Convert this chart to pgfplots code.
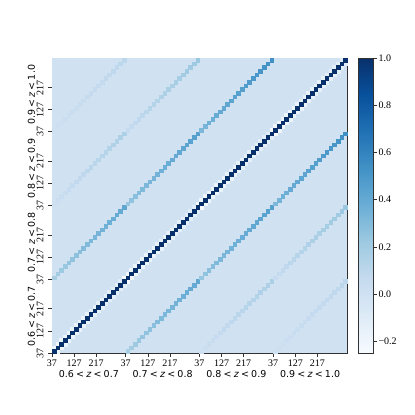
\documentclass[border=0pt]{standalone}
\usepackage{pgfplots}
\pgfplotsset{compat=1.18}
\usepackage{pgfplotstable}
\usepackage{fontspec}
\setmainfont{Liberation Serif}
\newfontfamily\dejavu{DejaVu Sans}

\pgfplotsset{
  colormap={mplblues}{rgb255=(247,251,255) rgb255=(222,235,247) rgb255=(198,219,239) rgb255=(158,202,225) rgb255=(107,174,214) rgb255=(66,146,198) rgb255=(33,113,181) rgb255=(8,81,156) rgb255=(8,48,107)},
  cell/.style={scatter, only marks, mark=square*, mark size=1.8pt, point meta=explicit,
    scatter/use mapped color={draw=mapped color, fill=mapped color},
    mark options={line width=0.1pt}},
}
\definecolor{bgcell}{RGB}{208,225,242}
\definecolor{spine}{RGB}{50,50,50}

% i = ell-bin index within a redshift block (ell = 37, 52, ..., 322)
% dg: diagonal, nb: neighbour bin (i,i+1) in same block,
% pAB: same-ell cross-correlation between redshift blocks A and B
\pgfplotstableread{
i  dg  nb    p01  p12  p23  p02  p13  p03
0  1   -0.20 0.18 0.24 0.32 0.02 0.06 0.01
1  1   -0.20 0.20 0.26 0.34 0.03 0.07 0.02
2  1   -0.19 0.22 0.28 0.36 0.04 0.08 0.02
3  1   -0.19 0.23 0.29 0.37 0.05 0.09 0.03
4  1   -0.18 0.25 0.31 0.39 0.06 0.10 0.03
5  1   -0.18 0.26 0.32 0.40 0.07 0.11 0.04
6  1   -0.17 0.27 0.33 0.41 0.08 0.12 0.04
7  1   -0.17 0.28 0.34 0.42 0.08 0.13 0.05
8  1   -0.16 0.30 0.35 0.43 0.09 0.14 0.05
9  1   -0.16 0.31 0.36 0.44 0.10 0.15 0.06
10 1   -0.15 0.32 0.37 0.45 0.11 0.16 0.06
11 1   -0.15 0.33 0.38 0.46 0.11 0.17 0.07
12 1   -0.14 0.34 0.39 0.47 0.12 0.17 0.07
13 1   -0.14 0.35 0.40 0.48 0.13 0.18 0.07
14 1   -0.13 0.36 0.41 0.49 0.13 0.19 0.08
15 1   -0.13 0.37 0.42 0.50 0.14 0.20 0.08
16 1   -0.12 0.38 0.43 0.51 0.15 0.21 0.09
17 1   -0.12 0.39 0.44 0.52 0.15 0.21 0.09
18 1   -0.11 0.40 0.45 0.53 0.16 0.22 0.10
19 1   nan   0.42 0.46 0.54 0.17 0.23 0.10
}\corrtab

\newcommand\pairplot[3]{%
  \addplot[cell] table[x expr=\thisrow{i}+20*#3+0.5, y expr=\thisrow{i}+20*#2+0.5, meta=#1]{\corrtab};
  \addplot[cell] table[x expr=\thisrow{i}+20*#2+0.5, y expr=\thisrow{i}+20*#3+0.5, meta=#1]{\corrtab};
}
\newcommand\nbplot[1]{%
  \addplot[cell] table[x expr=\thisrow{i}+20*#1+1.5, y expr=\thisrow{i}+20*#1+0.5, meta=nb]{\corrtab};
  \addplot[cell] table[x expr=\thisrow{i}+20*#1+0.5, y expr=\thisrow{i}+20*#1+1.5, meta=nb]{\corrtab};
}
\newcommand\zlab[2]{0.#1\hspace{2.2pt}<\hspace{2.2pt}{\itshape z}\hspace{2.2pt}<\hspace{2.2pt}#2}

\begin{document}
\begin{tikzpicture}
\begin{axis}[
  at={(0,0)}, anchor=south west,
  scale only axis, width=295pt, height=295pt,
  xmin=0, xmax=80, ymin=0, ymax=80,
  axis line style={spine, line width=0.6pt},
  tick align=outside, tick pos=left,
  major tick length=3.5pt, tick style={spine, line width=0.6pt},
  xtick={0,6,12,20,26,32,40,46,52,60,66,72},
  xticklabels={37,127,217,37,127,217,37,127,217,37,127,217},
  ytick={0,6,12,20,26,32,40,46,52,60,66,72},
  yticklabels={37,127,217,37,127,217,37,127,217,37,127,217},
  ticklabel style={font=\fontsize{10}{11}\selectfont},
  xticklabel style={yshift=-9.5pt, anchor=base},
  yticklabel style={xshift=-5pt, rotate=90, anchor=base},
  colormap name=mplblues, point meta min=-0.25, point meta max=1,
  colorbar,
  colorbar style={
    at={(parent axis.north east)}, anchor=north west, xshift=3pt,
    scale only axis, width=15pt, height=295pt,
    ytick={-0.2,0,0.2,0.4,0.6,0.8,1},
    yticklabels={−0.2,0.0,0.2,0.4,0.6,0.8,1.0},
    ytick pos=right, yticklabel pos=right,
    tick align=outside, major tick length=3.5pt,
    tick style={spine, line width=0.6pt},
    axis line style={spine, line width=0.6pt},
    yticklabel style={font=\fontsize{10}{12}\selectfont, xshift=-2pt},
  },
]
\addplot[fill=bgcell, draw=none] coordinates {(0,80) (80,80)} \closedcycle;
\pairplot{p03}{0}{3}
\pairplot{p02}{0}{2}
\pairplot{p13}{1}{3}
\pairplot{p01}{0}{1}
\pairplot{p12}{1}{2}
\pairplot{p23}{2}{3}
\nbplot{0}
\nbplot{1}
\nbplot{2}
\nbplot{3}
\addplot[cell] table[x expr=\thisrow{i}+0.5, y expr=\thisrow{i}+0.5, meta=dg]{\corrtab};
\addplot[cell] table[x expr=\thisrow{i}+20.5, y expr=\thisrow{i}+20.5, meta=dg]{\corrtab};
\addplot[cell] table[x expr=\thisrow{i}+40.5, y expr=\thisrow{i}+40.5, meta=dg]{\corrtab};
\addplot[cell] table[x expr=\thisrow{i}+60.5, y expr=\thisrow{i}+60.5, meta=dg]{\corrtab};
\end{axis}
\begin{scope}[every node/.style={font=\dejavu\fontsize{9.5}{11}\selectfont}]
\node[anchor=base] at (36.875pt,-24pt) {\zlab{6}{0.7}};
\node[anchor=base] at (110.625pt,-24pt) {\zlab{7}{0.8}};
\node[anchor=base] at (184.375pt,-24pt) {\zlab{8}{0.9}};
\node[anchor=base] at (258.125pt,-24pt) {\zlab{9}{1.0}};
\node[rotate=90, anchor=base] at (-17pt,36.875pt) {\zlab{6}{0.7}};
\node[rotate=90, anchor=base] at (-17pt,110.625pt) {\zlab{7}{0.8}};
\node[rotate=90, anchor=base] at (-17pt,184.375pt) {\zlab{8}{0.9}};
\node[rotate=90, anchor=base] at (-17pt,258.125pt) {\zlab{9}{1.0}};
\end{scope}
\pgfresetboundingbox
\useasboundingbox (-52pt,-62pt) rectangle (363pt,353pt);
\end{tikzpicture}
\end{document}
